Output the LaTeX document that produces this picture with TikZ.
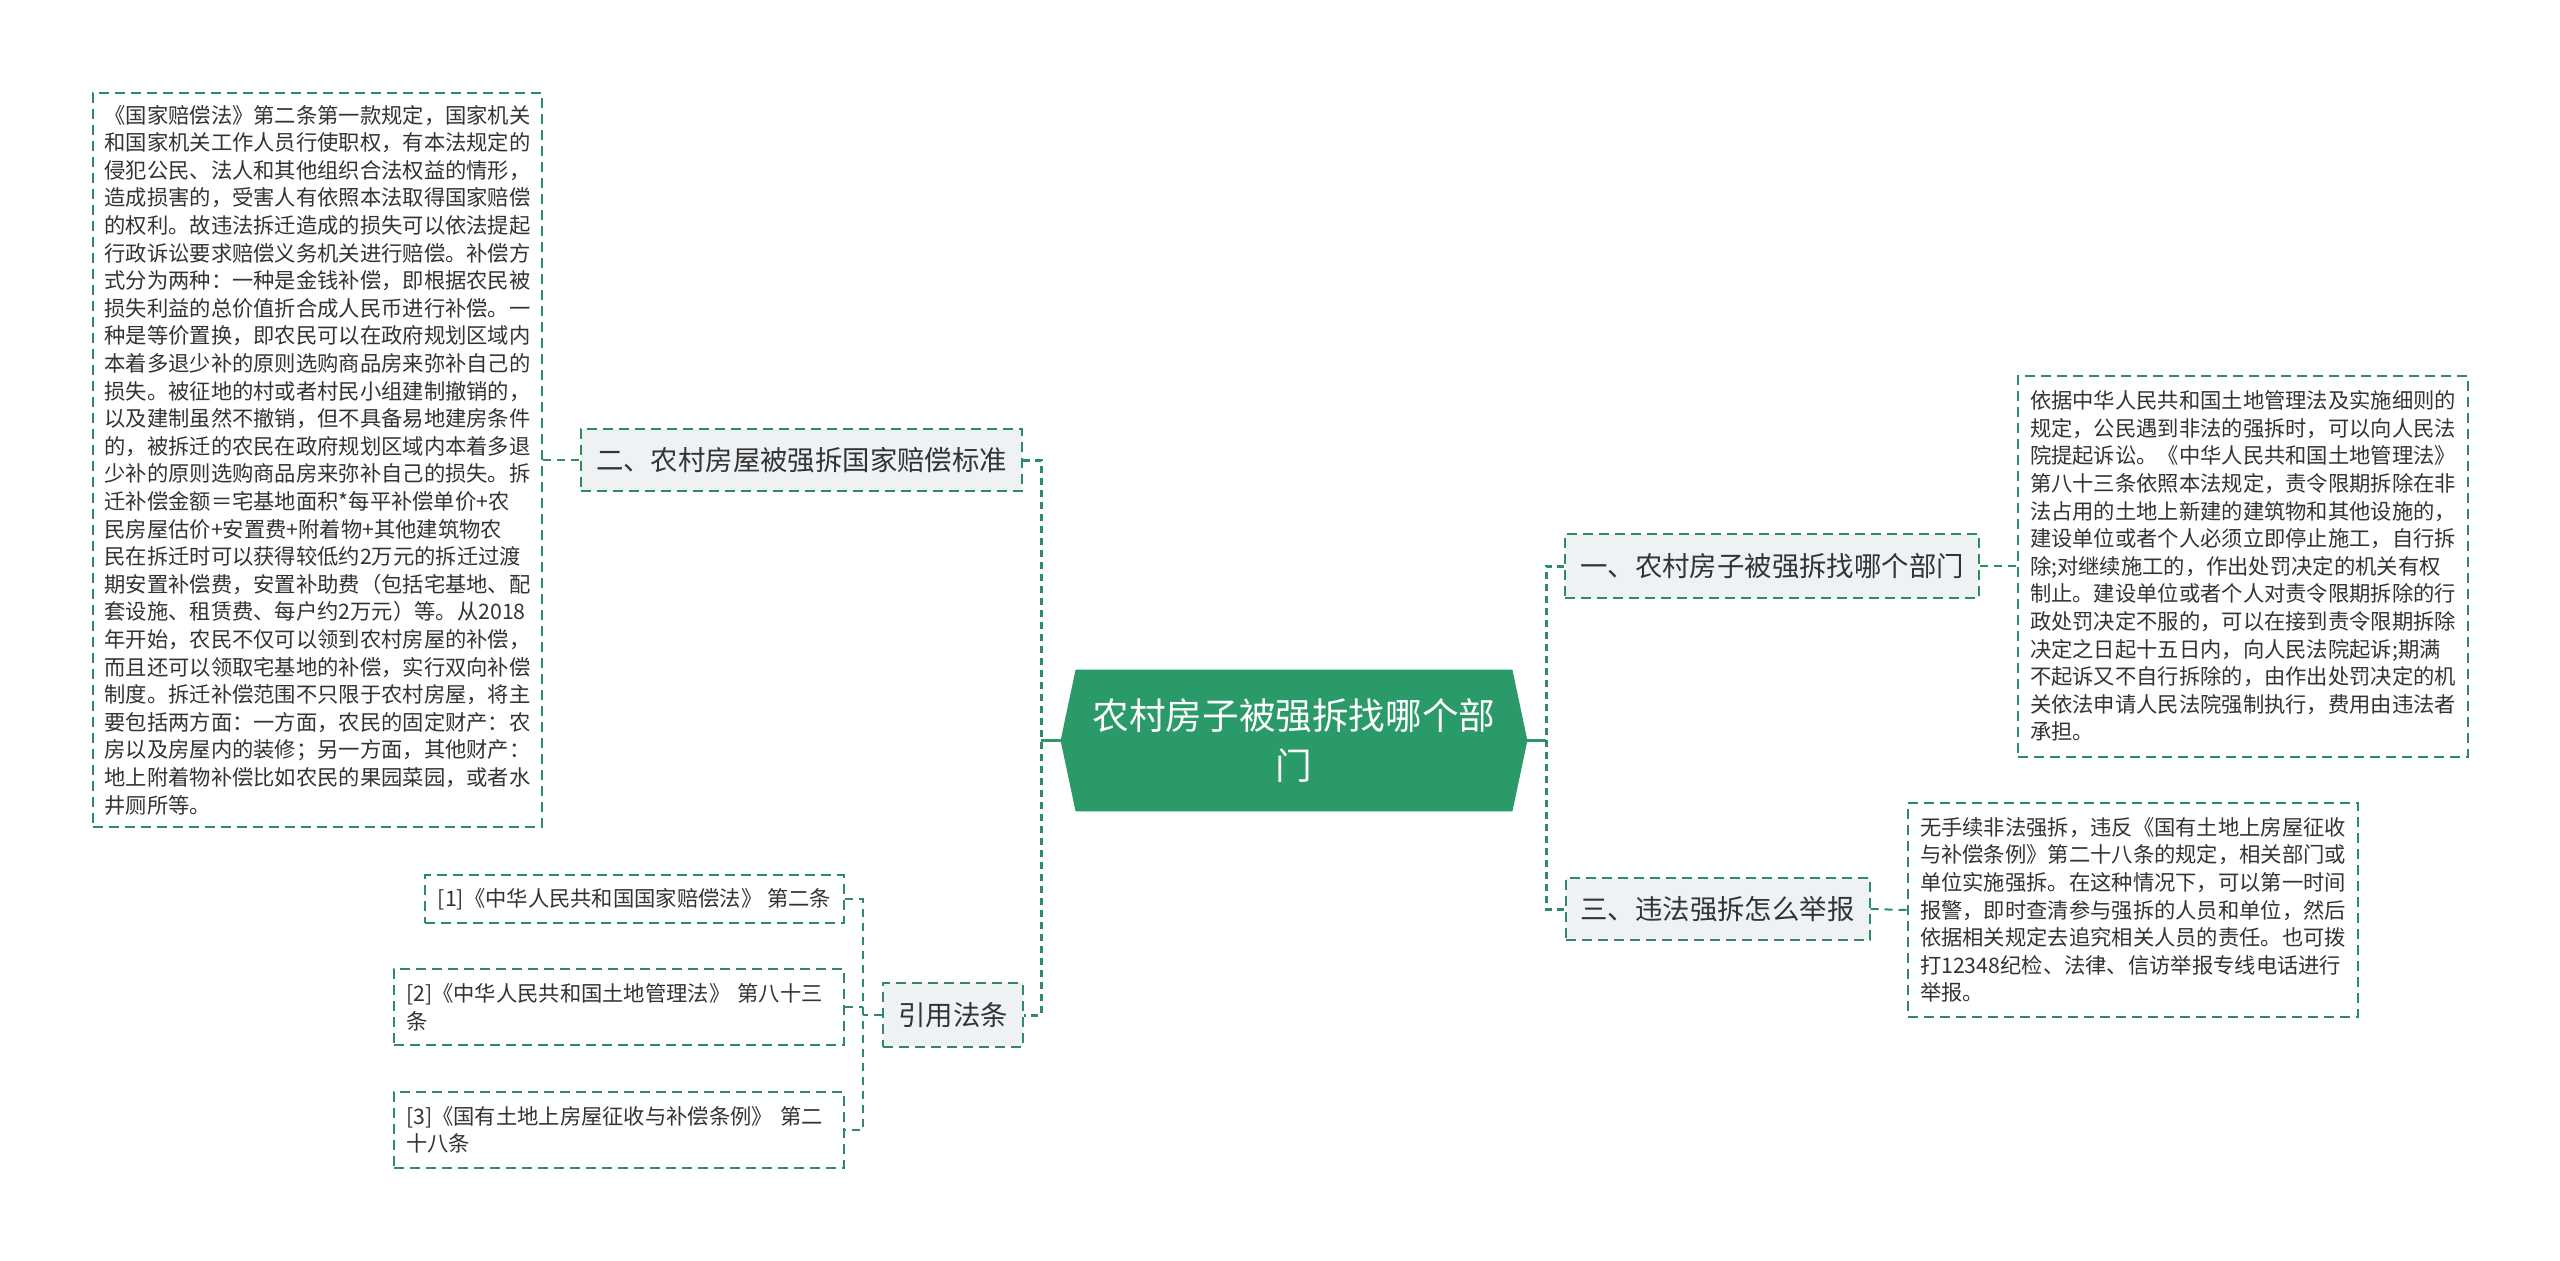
\documentclass[tikz,border=0pt]{standalone}
\usepackage{fontspec}
\setmainfont{Noto Sans CJK SC}
\usetikzlibrary{calc,backgrounds}

\definecolor{verde}{HTML}{2A9A68}
\definecolor{bordo}{HTML}{2E8B63}
\definecolor{grigino}{HTML}{EEF2F5}
\definecolor{scuro}{HTML}{333333}

\begin{document}
\begin{tikzpicture}[x=0.5pt, y=-0.5pt,
    corpo/.style={draw=bordo, line width=1pt, dash pattern=on 5pt off 3pt, text=scuro,
        align=left, inner sep=0pt, font=\fontsize{10.65pt}{13.8pt}\selectfont},
    ramo/.style={draw=bordo, fill=grigino, line width=1pt, dash pattern=on 5pt off 3pt,
        text=scuro, inner xsep=7.5pt, minimum height=31pt, font=\fontsize{13.7pt}{16pt}\selectfont},
    tronco/.style={draw=bordo, line width=1.5pt, dash pattern=on 3.5pt off 2.5pt},
    sottile/.style={draw=bordo, line width=1pt, dash pattern=on 4pt off 3pt},
    solido/.style={draw=verde, line width=1.5pt}]

    \useasboundingbox (0,0) rectangle (2560,1260);

    % Ascisse dei tronchi verticali
    \coordinate (P) at (1041,0);   % tronco sinistro
    \coordinate (Q) at (1546,0);   % tronco destro
    \coordinate (S) at (863,0);    % tronco delle fonti

    % Radice (esagono verde)
    \node[text=white, align=center, inner sep=0pt, minimum width=218pt, minimum height=70.5pt,
        font=\fontsize{18.3pt}{25pt}\selectfont] (R) at (1294,740.5) {农村房子被强拆找哪个部\\门};
    \coordinate (Rw) at ($(R.west)+(-15,0)$);
    \coordinate (Re) at ($(R.east)+(15,0)$);
    \begin{pgfonlayer}{background}
        \fill[white] (0,0) rectangle (2560,1260);
        \fill[verde] (R.north west) -- (R.north east) -- (Re) -- (R.south east)
            -- (R.south west) -- (Rw) -- cycle;
    \end{pgfonlayer}

    % Rami
    \node[ramo, minimum width=220.5pt] (B2) at (801.5,460) {二、农村房屋被强拆国家赔偿标准};
    \node[ramo, minimum width=69pt, minimum height=32pt] (B4) at (953,1015) {引用法条};
    \node[ramo, minimum width=207pt, minimum height=32pt] (B1) at (1772,566) {一、农村房子被强拆找哪个部门};
    \node[ramo, minimum width=151.5pt] (B3) at (1717.5,909) {三、违法强拆怎么举报};

    % Testi
    \node[corpo, minimum width=224.5pt, minimum height=367pt] (T2) at (317.5,460) {%
        《国家赔偿法》第二条第一款规定，国家机关\\
        和国家机关工作人员行使职权，有本法规定的\\
        侵犯公民、法人和其他组织合法权益的情形，\\
        造成损害的，受害人有依照本法取得国家赔偿\\
        的权利。故违法拆迁造成的损失可以依法提起\\
        行政诉讼要求赔偿义务机关进行赔偿。补偿方\\
        式分为两种：一种是金钱补偿，即根据农民被\\
        损失利益的总价值折合成人民币进行补偿。一\\
        种是等价置换，即农民可以在政府规划区域内\\
        本着多退少补的原则选购商品房来弥补自己的\\
        损失。被征地的村或者村民小组建制撤销的，\\
        以及建制虽然不撤销，但不具备易地建房条件\\
        的，被拆迁的农民在政府规划区域内本着多退\\
        少补的原则选购商品房来弥补自己的损失。拆\\
        迁补偿金额＝宅基地面积*每平补偿单价+农\\
        民房屋估价+安置费+附着物+其他建筑物农\\
        民在拆迁时可以获得较低约2万元的拆迁过渡\\
        期安置补偿费，安置补助费（包括宅基地、配\\
        套设施、租赁费、每户约2万元）等。从2018\\
        年开始，农民不仅可以领到农村房屋的补偿，\\
        而且还可以领取宅基地的补偿，实行双向补偿\\
        制度。拆迁补偿范围不只限于农村房屋，将主\\
        要包括两方面：一方面，农民的固定财产：农\\
        房以及房屋内的装修；另一方面，其他财产：\\
        地上附着物补偿比如农民的果园菜园，或者水\\
        井厕所等。};
    \node[corpo, minimum width=225pt, minimum height=190.5pt] (T1) at (2243,566) {%
        依据中华人民共和国土地管理法及实施细则的\\
        规定，公民遇到非法的强拆时，可以向人民法\\
        院提起诉讼。《中华人民共和国土地管理法》\\
        第八十三条依照本法规定，责令限期拆除在非\\
        法占用的土地上新建的建筑物和其他设施的，\\
        建设单位或者个人必须立即停止施工，自行拆\\
        除;对继续施工的，作出处罚决定的机关有权\\
        制止。建设单位或者个人对责令限期拆除的行\\
        政处罚决定不服的，可以在接到责令限期拆除\\
        决定之日起十五日内，向人民法院起诉;期满\\
        不起诉又不自行拆除的，由作出处罚决定的机\\
        关依法申请人民法院强制执行，费用由违法者\\
        承担。};
    \node[corpo, minimum width=225pt, minimum height=107pt] (T3) at (2133,910) {%
        无手续非法强拆，违反《国有土地上房屋征收\\
        与补偿条例》第二十八条的规定，相关部门或\\
        单位实施强拆。在这种情况下，可以第一时间\\
        报警，即时查清参与强拆的人员和单位，然后\\
        依据相关规定去追究相关人员的责任。也可拨\\
        打12348纪检、法律、信访举报专线电话进行\\
        举报。};

    % Fonti
    \node[corpo, minimum width=209.5pt, minimum height=24pt] (F1) at (634.5,899)
        {[1]《中华人民共和国国家赔偿法》 第二条};
    \node[corpo, text width=213pt, minimum width=225pt, minimum height=38pt] (F2) at (619,1007)
        {[2]《中华人民共和国土地管理法》 第八十三\\条};
    \node[corpo, text width=213pt, minimum width=225pt, minimum height=38pt] (F3) at (619,1130)
        {[3]《国有土地上房屋征收与补偿条例》 第二\\十八条};

    % Collegamenti
    \draw[solido] (Rw) -- (Rw -| P);
    \draw[solido] (Re) -- (Re -| Q);
    \draw[tronco] (B2.east) -- (B2.east -| P) -- (B4.east -| P) -- (B4.east);
    \draw[tronco] (B1.west) -- (B1.west -| Q) -- (B3.west -| Q) -- (B3.west);
    \draw[sottile] (T2.east) -- (B2.west);
    \draw[sottile] (B1.east) -- (T1.west);
    \draw[sottile] (B3.east) -- (T3.west);
    \draw[sottile] (B4.west) -- (B4.west -| S);
    \draw[sottile] (F1.east) -- (F1.east -| S) -- (F3.east -| S) -- (F3.east);
    \draw[sottile] (F2.east) -- (F2.east -| S);

\end{tikzpicture}
\end{document}
